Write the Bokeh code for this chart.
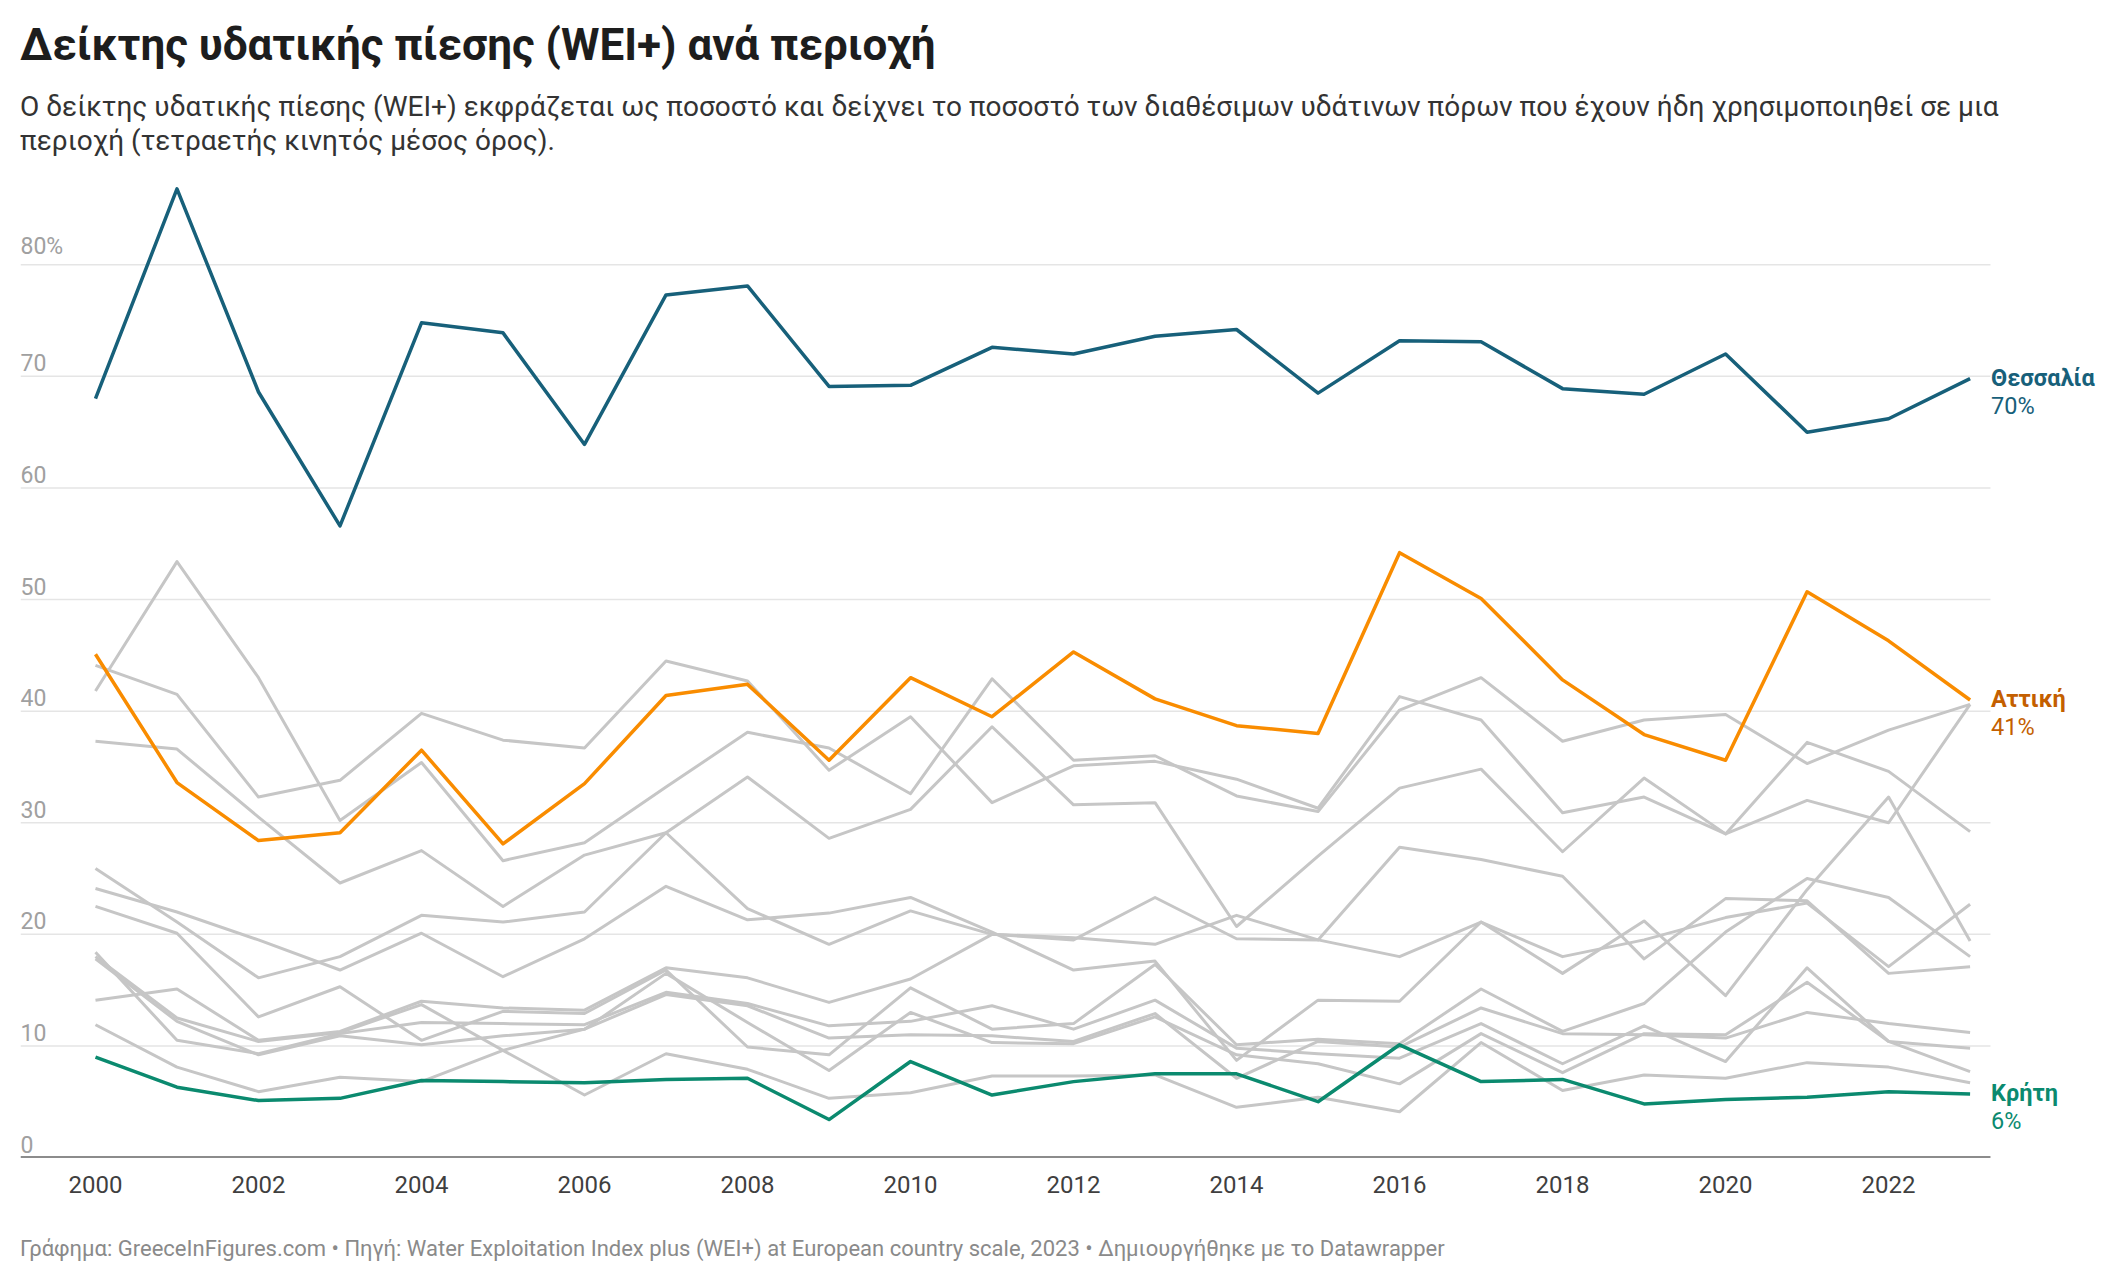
from bokeh.plotting import figure
from bokeh.models import Range1d, FixedTicker, Div
from bokeh.layouts import column
from bokeh.embed import file_html
from bokeh.resources import INLINE
from bokeh.core.properties import value

years = list(range(2000, 2024))

thessalia = [68.0, 86.8, 68.6, 56.6, 74.8, 73.9, 63.9, 77.3, 78.1, 69.1, 69.2, 72.6,
             72.0, 73.6, 74.2, 68.5, 73.2, 73.1, 68.9, 68.4, 72.0, 65.0, 66.2, 69.8]
attiki = [45.1, 33.6, 28.4, 29.1, 36.5, 28.1, 33.5, 41.4, 42.4, 35.6, 43.0, 39.5,
          45.3, 41.1, 38.7, 38.0, 54.2, 50.1, 42.8, 37.9, 35.6, 50.7, 46.3, 41.0]
kriti = [9.0, 6.3, 5.1, 5.3, 6.9, 6.8, 6.7, 7.0, 7.1, 3.4, 8.6, 5.6,
         6.8, 7.5, 7.5, 5.0, 10.1, 6.8, 7.0, 4.8, 5.2, 5.4, 5.9, 5.7]

other_1 = [41.8, 53.4, 43.0, 30.2, 35.4, 26.6, 28.2, 33.2, 38.1, 36.7, 32.6, 42.9,
           35.6, 36.0, 32.4, 31.0, 40.1, 43.0, 37.3, 39.2, 39.7, 35.3, 38.3, 40.6]
other_2 = [44.1, 41.5, 32.3, 33.8, 39.8, 37.4, 36.7, 44.5, 42.7, 34.7, 39.5, 31.8,
           35.1, 35.5, 33.9, 31.3, 41.3, 39.2, 30.9, 32.3, 29.0, 32.0, 30.0, 40.6]
other_3 = [37.3, 36.6, 30.5, 24.6, 27.5, 22.5, 27.1, 29.1, 34.1, 28.6, 31.2, 38.6,
           31.6, 31.8, 20.7, 27.0, 33.1, 34.8, 27.4, 34.0, 29.0, 37.2, 34.6, 29.2]
other_4 = [25.9, 21.1, 16.1, 18.0, 21.7, 21.1, 22.0, 29.1, 22.3, 19.1, 22.1, 20.0,
           19.7, 19.1, 21.7, 19.5, 18.0, 21.1, 18.0, 19.5, 21.5, 22.8, 17.1, 22.7]
other_5 = [24.1, 22.0, 19.5, 16.8, 20.1, 16.2, 19.6, 24.3, 21.3, 21.9, 23.3, 20.2,
           16.8, 17.6, 8.7, 14.1, 14.0, 21.1, 16.5, 21.2, 14.5, 24.0, 32.3, 19.4]
other_6 = [22.5, 20.1, 12.6, 15.3, 10.5, 13.1, 12.9, 16.8, 9.9, 9.2, 15.2, 11.5,
           12.0, 17.3, 10.1, 10.6, 10.2, 15.1, 11.3, 13.8, 20.2, 25.0, 23.3, 18.0]
other_7 = [18.4, 10.5, 9.3, 11.1, 12.1, 12.0, 11.9, 14.8, 13.8, 11.8, 12.2, 13.6,
           11.5, 14.1, 9.8, 9.3, 8.9, 12.0, 8.4, 11.8, 8.6, 17.0, 10.4, 9.8]
other_8 = [18.0, 12.5, 10.4, 11.2, 13.7, 9.6, 5.6, 9.3, 7.9, 5.3, 5.8, 7.3,
           7.3, 7.4, 4.5, 5.4, 4.1, 10.3, 6.0, 7.4, 7.1, 8.5, 8.1, 6.7]
other_9 = [17.8, 12.2, 9.2, 10.9, 10.1, 10.9, 11.5, 14.6, 13.6, 10.7, 11.0, 10.9,
           10.4, 12.9, 7.1, 10.4, 9.9, 13.4, 11.1, 11.0, 10.7, 13.0, 12.0, 11.2]
other_10 = [14.1, 15.1, 10.5, 11.3, 14.0, 13.4, 13.2, 17.0, 16.1, 13.9, 16.0, 20.0,
            19.5, 23.3, 19.6, 19.5, 27.8, 26.7, 25.2, 17.8, 23.2, 23.0, 16.5, 17.1]
other_11 = [11.9, 8.1, 5.9, 7.2, 6.8, 9.6, 11.5, 16.5, 12.1, 7.8, 13.0, 10.3,
            10.2, 12.6, 9.2, 8.4, 6.6, 11.1, 7.6, 11.1, 11.0, 15.7, 10.4, 7.7]

y_ticks = [0, 10, 20, 30, 40, 50, 60, 70, 80]
y_tick_labels = ["0", "10", "20", "30", "40", "50", "60", "70", "80%"]
x_ticks = [2000, 2002, 2004, 2006, 2008, 2010, 2012, 2014, 2016, 2018, 2020, 2022]

highlight_names = ["Θεσσαλία", "Αττική", "Κρήτη"]
highlight_pct = ["70%", "41%", "6%"]

title_text = "Δείκτης υδατικής πίεσης (WEI+) ανά περιοχή"
subtitle_lines = [
    "Ο δείκτης υδατικής πίεσης (WEI+) εκφράζεται ως ποσοστό και δείχνει το ποσοστό των διαθέσιμων υδάτινων πόρων που έχουν ήδη χρησιμοποιηθεί σε μια",
    "περιοχή (τετραετής κινητός μέσος όρος).",
]
footer_text = ("Γράφημα: GreeceInFigures.com • Πηγή: Water Exploitation Index plus (WEI+) "
               "at European country scale, 2023 • Δημιουργήθηκε με το Datawrapper")

FONT = "Roboto"
W = 2112

# chart area: x from X0 (left edge of grid) to X_END (right edge of grid);
# the frame extends further right to hold the end labels
X0, X_END, X1 = 1999.08, 2023.25, 2024.60
p = figure(width=W, height=1057, x_range=Range1d(X0, X1), y_range=Range1d(0, 88),
           output_backend="svg", toolbar_location=None, title=None,
           min_border_left=20, min_border_right=12, min_border_top=17, min_border_bottom=58)
p.outline_line_color = None
p.background_fill_color = "white"
p.border_fill_color = "white"
p.yaxis.visible = False
p.xgrid.visible = False
p.ygrid.visible = False

ax = p.xaxis[0]
ax.ticker = FixedTicker(ticks=x_ticks)
ax.axis_line_color = None
ax.major_tick_line_color = None
ax.minor_tick_line_color = None
ax.major_label_standoff = 12
ax.major_label_text_font = FONT
ax.major_label_text_font_size = "24px"
ax.major_label_text_font_style = "normal"
ax.major_label_text_color = "#3f3f3f"

# horizontal grid lines at the y ticks, ending where the chart ends
grid_y = y_ticks[1:]
p.segment(x0=[X0] * len(grid_y), x1=[X_END] * len(grid_y), y0=grid_y, y1=grid_y,
          line_color="#e5e5e5", line_width=1.5)

# y tick labels sitting above the grid lines
p.text(x=[X0] * len(y_ticks), y=y_ticks, text=y_tick_labels,
       text_font=value(FONT), text_font_size="23px", text_color="#a0a0a0",
       text_align="left", text_baseline="bottom", y_offset=-5)

gray = "#c6c6c6"
for s in [other_1, other_2, other_3, other_4, other_5, other_6, other_7,
          other_8, other_9, other_10, other_11]:
    p.line(years, s, line_color=gray, line_width=3, line_join="round")

line_colors = ["#17607a", "#f98c00", "#0b8a6f"]
label_colors = ["#17607a", "#c45f00", "#0b8a6f"]
for s, c in zip([thessalia, attiki, kriti], line_colors):
    p.line(years, s, line_color=c, line_width=3.5, line_join="round")

# x axis base line (only across the chart area)
p.segment(x0=[X0], x1=[X_END], y0=[0], y1=[0], line_color="#1a1a1a", line_width=2)

for s, name, pct, c in zip([thessalia, attiki, kriti], highlight_names, highlight_pct, label_colors):
    p.text(x=[years[-1]], y=[s[-1]], text=[name], x_offset=21, y_offset=-1,
           text_font=value(FONT), text_font_size="23.5px", text_font_style="bold",
           text_color=c, text_baseline="middle", text_align="left")
    p.text(x=[years[-1]], y=[s[-1]], text=[pct], x_offset=21, y_offset=27,
           text_font=value(FONT), text_font_size="23.5px",
           text_color=c, text_baseline="middle", text_align="left")

title_div = Div(text=title_text, width=W, height=52, margin=(19, 0, 0, 0),
                styles={"font-family": FONT, "font-size": "44px", "font-weight": "700",
                        "color": "#1d1d1d", "line-height": "52px", "padding-left": "20px",
                        "white-space": "nowrap"})
subtitle_div = Div(text="<br>".join(subtitle_lines), width=W, height=68, margin=(19, 0, 0, 0),
                   styles={"font-family": FONT, "font-size": "28px", "font-weight": "400",
                           "color": "#333333", "line-height": "34px", "padding-left": "20px",
                           "white-space": "nowrap"})
footer_div = Div(text=footer_text, width=W, height=26, margin=(21, 0, 0, 0),
                 styles={"font-family": FONT, "font-size": "22px", "color": "#8a8a8a",
                         "line-height": "26px", "padding-left": "20px", "white-space": "nowrap"})

layout = column(title_div, subtitle_div, p, footer_div, spacing=0)

open("out.html", "w").write(file_html(layout, INLINE))
